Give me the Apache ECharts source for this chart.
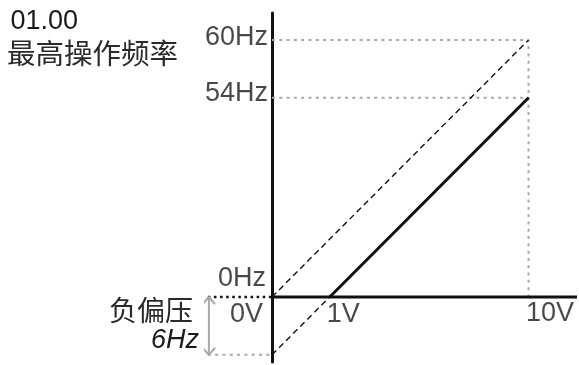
<!DOCTYPE html>
<html>
<head>
<meta charset="utf-8">
<script src="https://cdn.jsdelivr.net/npm/echarts@6/dist/echarts.min.js"></script>
<style>
html,body{margin:0;padding:0;background:#fff;}
#c{width:579px;height:365px;}
</style>
</head>
<body>
<div id="c"></div>
<script>
// ---- data (schematic units: x in drawn volts, y in drawn Hz) ----
const xTickLabels = ['0V', '1V', '10V'];
const xTickPos = [0, 2.25, 10];
const yTickLabels = ['0Hz', '54Hz', '60Hz'];
const yTickPos = [0, 46.5, 60];
const biasPos = -13.5;             // drawn position of the -6Hz bias
const biasLabel = '6Hz';
const paramLabel = '01.00';
const paramName = '最高操作频率';
const biasName = '负偏压';
const maxFreqLine = [[0, 0], [10, 60]];        // 0V->0Hz, 10V->60Hz (dashed)
const biasLine = [[0, -13.5], [10, 46.5]];      // shifted by bias (dashed)
const outputLine = [[2.25, 0], [10, 46.5]];     // actual output (solid)

// ---- layout / styling ----
const FONT = "'Liberation Sans', Arial, 'Noto Sans CJK SC', sans-serif";
const CJK = "'Noto Sans CJK SC', sans-serif";
const TXT = '#1a1a1a';
const GRAY = '#a8a8a8';
const X_MIN = -2.6, X_MAX = 11.89;
const xLabelOff = [[-9, 18, 'right'], [-3, 18, 'left'], [-2.5, 17, 'left']];
const yLabelOff = [[-6, -18.7], [-4, -3.8], [-4, -2.5]];
const arrowX = -2.46, leftX = -2.5, headDx = 0.24, headDy = 1.65;

const chart = echarts.init(document.getElementById('c'), null, {renderer: 'canvas'});

const labelData = [];
xTickLabels.forEach((t, i) => labelData.push({
  value: [xTickPos[i], 0],
  label: {formatter: t, position: [xLabelOff[i][0], xLabelOff[i][1]], align: xLabelOff[i][2], verticalAlign: 'middle'}
}));
yTickLabels.forEach((t, i) => labelData.push({
  value: [0, yTickPos[i]],
  label: {formatter: t, position: [yLabelOff[i][0], yLabelOff[i][1]], align: 'right', verticalAlign: 'middle'}
}));

function ln(data, style, extra) {
  return Object.assign({type: 'line', data: data, symbol: 'none', clip: false, silent: true,
    lineStyle: style, z: 3}, extra || {});
}

const option = {
  animation: false,
  backgroundColor: '#fff',
  grid: {left: 205.3, right: 2, top: 13, bottom: 3},
  xAxis: {type: 'value', min: X_MIN, max: X_MAX,
    axisLine: {show: false},
    axisTick: {show: false}, axisLabel: {show: false}, splitLine: {show: false}},
  yAxis: {type: 'value', min: -15.18, max: 66.3,
    axisLine: {onZero: true, lineStyle: {color: '#111', width: 3}},
    axisTick: {show: false}, axisLabel: {show: false}, splitLine: {show: false}},
  series: [
    ln([[xTickPos[0], yTickPos[2]], [xTickPos[2], yTickPos[2]], [xTickPos[2], yTickPos[0]]],
       {color: GRAY, width: 2, type: [3, 4.3]}),
    ln([[xTickPos[0], yTickPos[1]], [xTickPos[2], yTickPos[1]]],
       {color: GRAY, width: 2, type: [3, 4.3]}),
    // horizontal axis (0Hz) to the right of origin
    ln([[0, 0], [X_MAX, 0]], {color: '#111', width: 3}, {z: 4}),
    ln([[leftX, 0], [0, 0]], {color: '#111', width: 2.5, type: [2.5, 3.6]}),
    ln([[leftX, biasPos], [0, biasPos]], {color: GRAY, width: 2, type: [3, 4.3]}),
    ln(maxFreqLine, {color: '#111', width: 1.4, type: [6, 4]}),
    ln(biasLine, {color: '#111', width: 1.4, type: [6, 4]}),
    ln(outputLine, {color: '#111', width: 3}, {z: 4}),
    // double arrow for bias
    ln([[arrowX, 0], [arrowX, biasPos]], {color: GRAY, width: 2}),
    ln([[arrowX - headDx, -headDy], [arrowX, 0], [arrowX + headDx, -headDy]], {color: GRAY, width: 2}),
    ln([[arrowX - headDx, biasPos + headDy], [arrowX, biasPos], [arrowX + headDx, biasPos + headDy]], {color: GRAY, width: 2}),
    {
      type: 'scatter', data: labelData, symbolSize: 0, clip: false, silent: true, z: 5,
      itemStyle: {color: 'rgba(0,0,0,0)'},
      label: {show: true, color: TXT, fontFamily: FONT, fontSize: 27}
    }
  ],
  graphic: [
    {type: 'text', x: 10.5, y: 21.5, style: {text: paramLabel, font: '27px ' + FONT, fill: TXT, verticalAlign: 'middle'}},
    {type: 'text', x: 7, y: 53, style: {text: paramName, font: '28.5px ' + CJK, fill: '#2a2a2a', verticalAlign: 'middle'}},
    {type: 'text', x: 109, y: 310, style: {text: biasName, font: '28px ' + CJK, fill: '#2a2a2a', verticalAlign: 'middle'}},
    {type: 'text', x: 199, y: 340, style: {text: biasLabel, font: 'italic 27px ' + FONT, fill: TXT, align: 'right', verticalAlign: 'middle'}}
  ]
};
chart.setOption(option);
</script>
</body>
</html>
